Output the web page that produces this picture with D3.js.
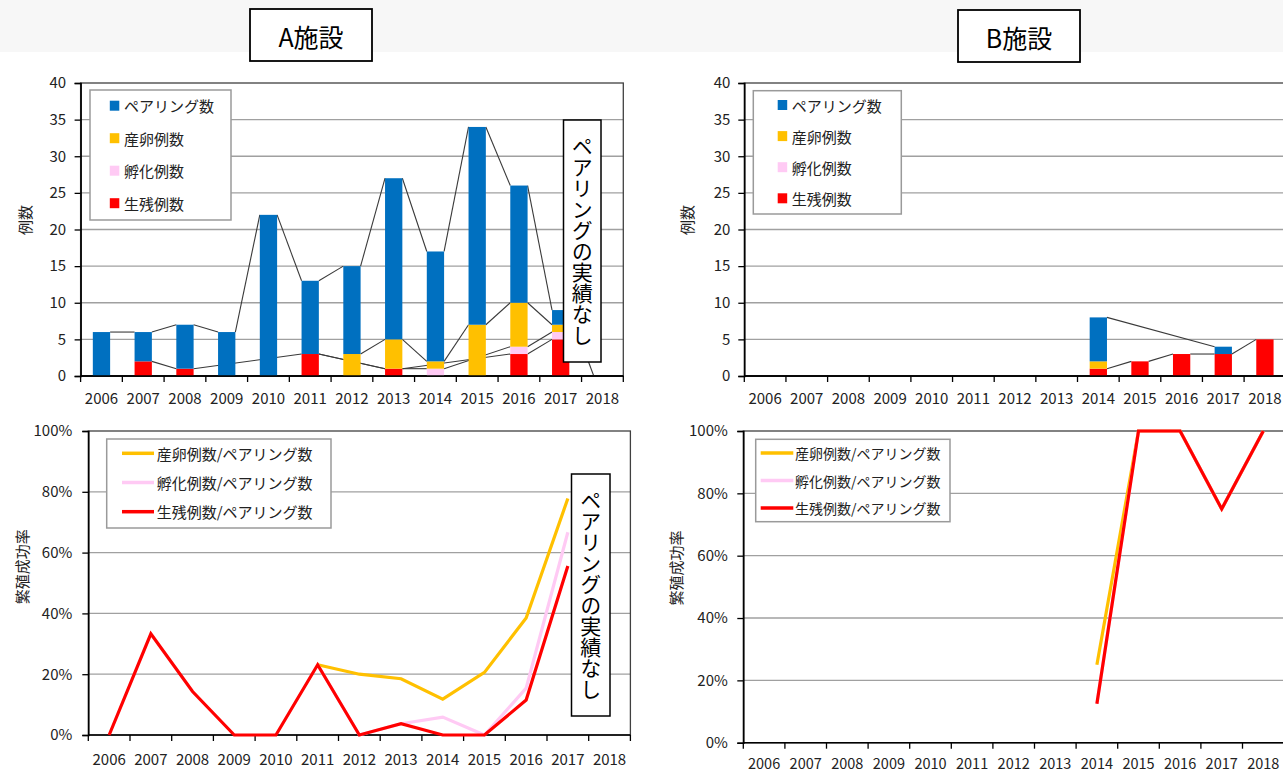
<!DOCTYPE html>
<html><head><meta charset="utf-8">
<script src="https://cdn.jsdelivr.net/npm/d3@7"></script>
<style>
body{margin:0;background:#fff;}
svg{display:block;font-family:"Noto Sans CJK JP","Noto Sans",sans-serif;}
</style>
</head><body>
<svg id="c" width="1283" height="772"></svg>
<script>
// ---------- DATA ----------
const years = ['2006','2007','2008','2009','2010','2011','2012','2013','2014','2015','2016','2017','2018'];
const countTicks = [0,5,10,15,20,25,30,35,40];
const rateTicks = [0,20,40,60,80,100];
const barLegend = ['ペアリング数','産卵例数','孵化例数','生残例数'];
const rateLegend = ['産卵例数/ペアリング数','孵化例数/ペアリング数','生残例数/ペアリング数'];
const titles = ['A施設','B施設'];
const note = 'ペアリングの実績なし';
const yTitleCount = '例数';
const yTitleRate = '繁殖成功率';

// A施設 stacked segments (生残, 孵化−生残, 産卵−孵化, ペアリング−産卵); null = blank
const aSurvive  = [null,2,1,null,null,3,null,1,null,null,3,5,null];
const aHatchAdd = [null,null,null,null,null,0,null,0,1,null,1,1,null];
const aEggAdd   = [null,null,null,null,null,null,3,4,1,7,6,1,null];
const aPairAdd  = [6,4,6,6,22,10,12,22,15,27,16,2,0];
// B施設 stacked segments
const bSurvive  = [null,null,null,null,null,null,null,null,1,2,3,3,5];
const bHatchAdd = [null,null,null,null,null,null,null,null,0,null,null,null,null];
const bEggAdd   = [null,null,null,null,null,null,null,null,1,null,null,null,null];
const bPairAdd  = [null,null,null,null,null,null,null,null,6,null,null,1,null];

// rates (%)
const aRateEgg     = [null,null,null,null,null,23.1,20.0,18.5,11.8,20.6,38.5,77.8,null];
const aRateHatch   = [null,null,null,null,null,23.1,0,3.7,5.9,0,15.4,66.7,null];
const aRateSurvive = [0,33.3,14.3,0,0,23.1,0,3.7,0,0,11.5,55.6,null];
const bRateEgg     = [null,null,null,null,null,null,null,null,25,100,100,75,100];
const bRateHatch   = [null,null,null,null,null,null,null,null,12.5,100,100,75,100];
const bRateSurvive = [null,null,null,null,null,null,null,null,12.5,100,100,75,100];

// ---------- STYLE ----------
const C = {blue:'#0070c0', yellow:'#ffc000', pink:'#ffcaf4', red:'#ff0000'};
const svg = d3.select('#c');
svg.append('rect').attr('x',0).attr('y',0).attr('width',1283).attr('height',52).attr('fill','#f7f7f7');

function frame(o){
  const g = svg.append('g');
  const x = d3.scaleBand().domain(years).range([o.x0,o.x1]).paddingInner(0).paddingOuter(0);
  const y = d3.scaleLinear().domain([0,o.max]).range([o.yb,o.yt]);
  g.selectAll('line.grid').data(o.ticks.filter(t=>t>0 && t<o.max)).enter().append('line')
    .attr('x1',o.x0).attr('x2',o.x1).attr('y1',d=>y(d)).attr('y2',d=>y(d))
    .attr('stroke','#a0a0a0').attr('stroke-width',1.3);
  g.append('rect').attr('x',o.x0).attr('y',o.yt).attr('width',o.x1-o.x0).attr('height',o.yb-o.yt)
    .attr('fill','none').attr('stroke','#404040').attr('stroke-width',1.3);
  const ya = g.append('g').attr('transform',`translate(${o.x0},0)`)
    .call(d3.axisLeft(y).tickValues(o.ticks).tickSize(6).tickPadding(o.pad).tickFormat(o.fmt));
  ya.select('.domain').attr('stroke','#000').attr('stroke-width',1.6);
  ya.selectAll('.tick line').attr('stroke','#000').attr('stroke-width',1.3);
  ya.selectAll('text').attr('font-size',15).attr('fill','#222').attr('font-family','"Noto Sans CJK JP",sans-serif');
  const xa = g.append('g').attr('transform',`translate(0,${o.yb})`)
    .call(d3.axisBottom(x).tickSize(0).tickPadding(0));
  xa.select('.domain').remove();
  xa.selectAll('text').attr('y',o.labDy).attr('dy',null).attr('dominant-baseline','central')
    .attr('font-size',o.xfs||15).attr('fill','#222').attr('font-family','"Noto Sans CJK JP",sans-serif');
  g.selectAll('line.xt').data(d3.range(years.length+1)).enter().append('line')
    .attr('x1',i=>o.x0+i*x.step()).attr('x2',i=>o.x0+i*x.step())
    .attr('y1',o.yb).attr('y2',o.yb+6).attr('stroke','#000').attr('stroke-width',1.3);
  g.append('line').attr('x1',o.x0).attr('x2',o.x1).attr('y1',o.yb).attr('y2',o.yb)
    .attr('stroke','#000').attr('stroke-width',1.6);
  svg.append('text').attr('transform',`translate(${o.tx},${o.ty}) rotate(-90)`)
    .attr('text-anchor','middle').attr('dominant-baseline','central')
    .attr('font-size',15).attr('fill','#222').text(o.title);
  return {g,x,y};
}

function stackedChart(o, segs){
  const f = frame(o);
  const bw = 17.3;
  const n = years.length;
  const cols = [C.red, C.pink, C.yellow, C.blue];
  const cum = segs.map((s,k)=>years.map((yr,i)=>{
    let t=0; for(let j=0;j<=k;j++) t += (segs[j][i]||0); return t;}));
  const lg = f.g.append('g');
  segs.forEach((s,k)=>{
    const idx = d3.range(n).filter(i=>s[i]!==null);
    for(let m=0;m<idx.length-1;m++){
      const i=idx[m], j=idx[m+1];
      const pts=[[f.x(years[i])+f.x.bandwidth()/2+bw/2, f.y(cum[k][i])],
                 [f.x(years[j])+f.x.bandwidth()/2-bw/2, f.y(cum[k][j])]];
      lg.append('path').attr('d',d3.line()(pts)).attr('fill','none')
        .attr('stroke','#3a3a3a').attr('stroke-width',1.1);
    }
  });
  segs.forEach((s,k)=>{
    f.g.append('g').selectAll('rect').data(years.map((yr,i)=>({yr,i,v:s[i]||0})).filter(d=>d.v>0))
      .enter().append('rect')
      .attr('x',d=>f.x(d.yr)+f.x.bandwidth()/2-bw/2).attr('width',bw)
      .attr('y',d=>f.y(cum[k][d.i]))
      .attr('height',d=>f.y(cum[k][d.i]-d.v)-f.y(cum[k][d.i]))
      .attr('fill',cols[k]);
  });
  f.g.append('line').attr('x1',o.x0).attr('x2',o.x1).attr('y1',o.yb).attr('y2',o.yb)
    .attr('stroke','#000').attr('stroke-width',1.6);
  const L=o.leg;
  const lgd = svg.append('g');
  lgd.append('rect').attr('x',L.x).attr('y',L.y).attr('width',L.w).attr('height',L.h)
    .attr('fill','#fff').attr('stroke','#9a9a9a').attr('stroke-width',1.5);
  const lc=[C.blue,C.yellow,C.pink,C.red];
  barLegend.forEach((t,i)=>{
    const cy=L.y0+i*L.dy;
    lgd.append('rect').attr('x',L.mx).attr('y',cy-5).attr('width',9.5).attr('height',10).attr('fill',lc[i]);
    lgd.append('text').attr('x',L.tx).attr('y',cy).attr('dominant-baseline','central')
      .attr('font-size',15).attr('fill','#222').text(t);
  });
  return f;
}

function rateChart(o, series){
  const f = frame(o);
  const cols=[C.yellow,C.pink,C.red];
  series.forEach((s,k)=>{
    const line = d3.line().defined(d=>d!==null)
      .x((d,i)=>f.x(years[i])+f.x.bandwidth()/2).y(d=>f.y(d));
    f.g.append('path').datum(s).attr('d',line).attr('fill','none')
      .attr('stroke',cols[k]).attr('stroke-width',3.2).attr('stroke-linejoin','miter');
  });
  const L=o.leg;
  const lgd = svg.append('g');
  lgd.append('rect').attr('x',L.x).attr('y',L.y).attr('width',L.w).attr('height',L.h)
    .attr('fill','#fff').attr('stroke','#9a9a9a').attr('stroke-width',1.5);
  rateLegend.forEach((t,i)=>{
    const cy=L.y0+i*L.dy;
    lgd.append('line').attr('x1',L.lx0).attr('x2',L.lx1).attr('y1',cy).attr('y2',cy)
      .attr('stroke',cols[i]).attr('stroke-width',3.5);
    lgd.append('text').attr('x',L.tx).attr('y',cy).attr('dominant-baseline','central')
      .attr('font-size',L.fs).attr('fill','#222').text(t);
  });
  return f;
}

function noteBox(x,y,w,h){
  svg.append('rect').attr('x',x).attr('y',y).attr('width',w).attr('height',h)
    .attr('fill','#fff').attr('stroke','#000').attr('stroke-width',1.5);
  svg.append('text').attr('x',x+w/2).attr('y',y+h/2)
    .attr('text-anchor','middle').attr('dominant-baseline','central')
    .style('writing-mode','vertical-rl').style('text-orientation','upright')
    .attr('font-size',21).attr('fill','#000').text(note);
}
function titleBox(x,y,w,h,t){
  svg.append('rect').attr('x',x).attr('y',y).attr('width',w).attr('height',h)
    .attr('fill','#fff').attr('stroke','#000').attr('stroke-width',1.8);
  svg.append('text').attr('x',x+w/2).attr('y',y+h/2+1)
    .attr('text-anchor','middle').attr('dominant-baseline','central')
    .attr('font-size',25).attr('fill','#000').text(t);
}

// ---------- CHARTS ----------
stackedChart({x0:80.6,x1:623.3,yt:83,yb:376,max:40,ticks:countTicks,fmt:d=>d,pad:8.5,labDy:21,
  tx:24.6,ty:220,title:yTitleCount,
  leg:{x:90,y:90,w:141,h:130,y0:105.7,dy:32.5,mx:109.8,tx:124}},
  [aSurvive,aHatchAdd,aEggAdd,aPairAdd]);
stackedChart({x0:744.3,x1:744.3+13*41.65,yt:83,yb:376,max:40,ticks:countTicks,fmt:d=>d,pad:8,labDy:21,
  tx:686.7,ty:220,title:yTitleCount,
  leg:{x:753.3,y:90.7,w:148,h:123.3,y0:105,dy:31.1,mx:777.7,tx:791.7}},
  [bSurvive,bHatchAdd,bEggAdd,bPairAdd]);
rateChart({x0:88.3,x1:630.4,yt:431,yb:735,max:100,ticks:rateTicks,fmt:d=>d+'%',pad:10,labDy:23.3,
  tx:21.7,ty:566.7,title:yTitleRate,
  leg:{x:106.7,y:439,w:224.3,h:89,y0:453.3,dy:29.2,lx0:122,lx1:154,tx:156.7,fs:15}},
  [aRateEgg,aRateHatch,aRateSurvive]);
rateChart({x0:743.3,x1:743.3+13*41.6,yt:431,yb:742.7,max:100,ticks:rateTicks,fmt:d=>d+'%',pad:9.5,labDy:19.5,xfs:14.5,
  tx:675,ty:568,title:yTitleRate,
  leg:{x:755.7,y:439.3,w:194.3,h:82.4,y0:453,dy:27.5,lx0:760.7,lx1:793.3,tx:795,fs:14}},
  [bRateEgg,bRateHatch,bRateSurvive]);

noteBox(563.5,120,37.5,242);
noteBox(571.5,474,38.5,242);
titleBox(250,9,122,52,titles[0]);
titleBox(958,10,122,52,titles[1]);
</script>
</body></html>
